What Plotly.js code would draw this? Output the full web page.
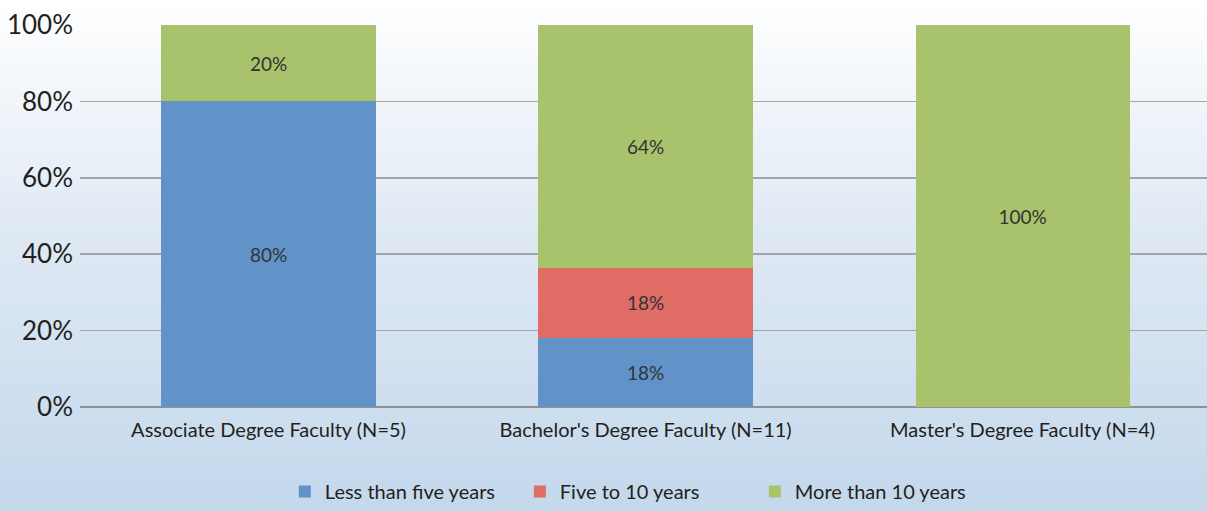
<!DOCTYPE html>
<html>
<head>
<meta charset="utf-8">
<script src="https://cdn.plot.ly/plotly-3.0.1.min.js"></script>
<style>
  html, body { margin: 0; padding: 0; }
  #chart {
    width: 1207px; height: 511px;
    background: linear-gradient(to bottom, #ffffff 0%, #dfe9f4 45%, #c4d8ec 100%);
  }
</style>
</head>
<body>
<div id="chart"></div>
<script>
const categories = ['Associate Degree Faculty (N=5)', "Bachelor's Degree Faculty (N=11)", "Master's Degree Faculty (N=4)"];
const lessThanFive = [80, 18.18, 0];
const fiveToTen = [0, 18.18, 0];
const moreThanTen = [20, 63.64, 100];

const seriesNames = ['Less than five years', 'Five to 10 years', 'More than 10 years'];
const seriesColors = ['#6193c8', '#e06c66', '#a9c36c'];

const labelFor = v => v > 0 ? Math.round(v) + '%' : '';

const traces = [lessThanFive, fiveToTen, moreThanTen].map((vals, i) => ({
  type: 'bar',
  name: seriesNames[i],
  x: categories,
  y: vals,
  text: vals.map(labelFor),
  textposition: 'inside',
  insidetextanchor: 'middle',
  textangle: 0,
  textfont: { family: 'Lato, sans-serif', size: 19, color: '#333333' },
  marker: { color: seriesColors[i], line: { width: 0 } },
  hoverinfo: 'none'
}));

Plotly.newPlot('chart', traces, {
  width: 1207,
  height: 511,
  barmode: 'stack',
  bargap: 0.432,
  paper_bgcolor: 'rgba(0,0,0,0)',
  plot_bgcolor: 'rgba(0,0,0,0)',
  font: { family: 'Lato, sans-serif', color: '#231f20' },
  margin: { l: 80, r: 0, t: 25, b: 104, autoexpand: false },
  xaxis: {
    range: [-0.5, 2.489],
    tickfont: { size: 20 },
    showgrid: false,
    showline: false,
    ticks: '',
    ticklabelstandoff: 9,
    automargin: false,
    fixedrange: true
  },
  yaxis: {
    range: [0, 100],
    tick0: 0,
    dtick: 20,
    ticksuffix: '%',
    tickfont: { size: 26 },
    showgrid: true,
    gridcolor: '#a3a6a9',
    gridwidth: 1.5,
    zeroline: true,
    zerolinecolor: '#8f9396',
    zerolinewidth: 2,
    ticklabelstandoff: 6,
    automargin: false,
    fixedrange: true
  },
  showlegend: true,
  legend: {
    orientation: 'h',
    xref: 'container',
    yref: 'container',
    x: 0.236,
    xanchor: 'left',
    y: -0.012,
    yanchor: 'bottom',
    font: { size: 20 },
    itemwidth: 30,
    entrywidth: 190,
    traceorder: 'normal'
  }
}, { displayModeBar: false, staticPlot: true });
</script>
</body>
</html>
